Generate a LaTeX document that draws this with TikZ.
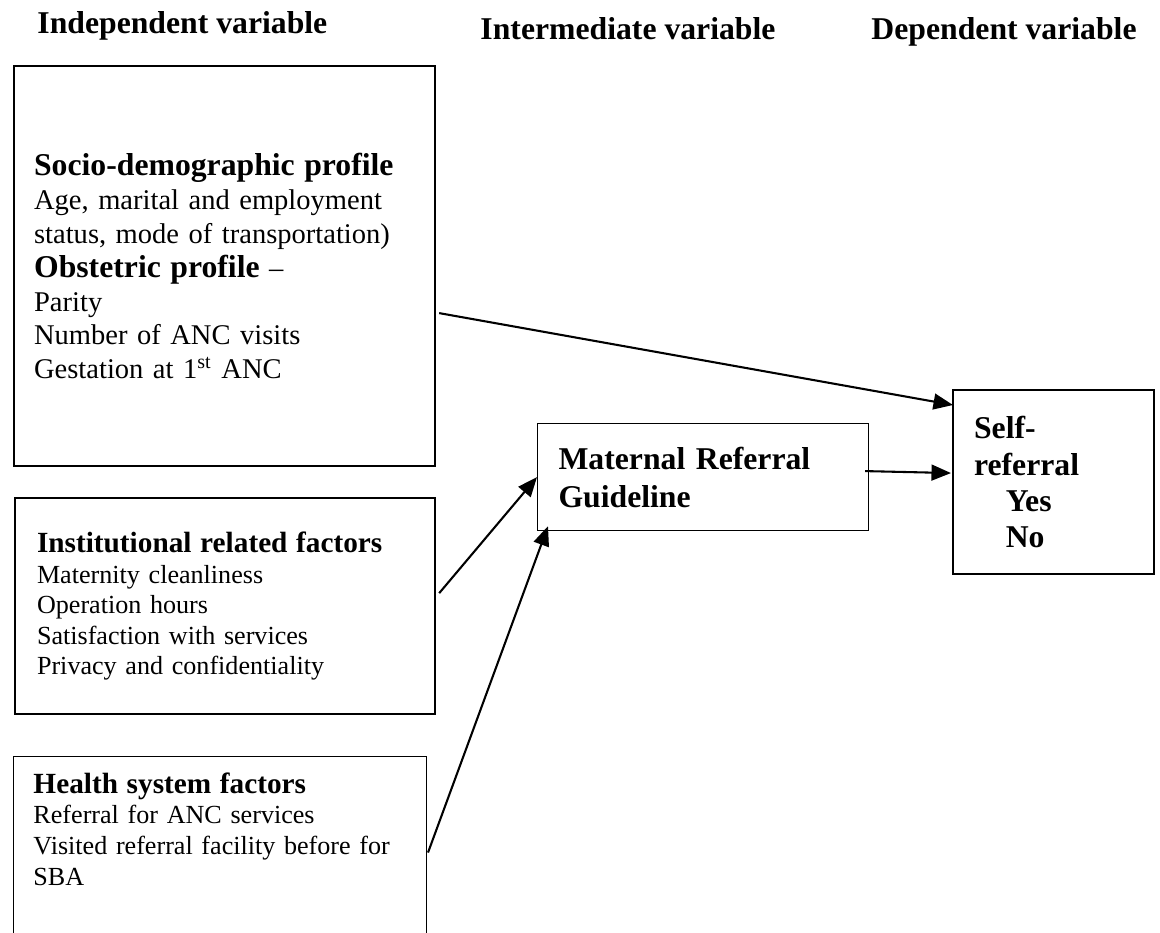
\documentclass[tikz,border=0pt]{standalone}
\usepackage{fontspec}
\setmainfont{Liberation Serif}
\usetikzlibrary{arrows.meta,calc}

\begin{document}
\begin{tikzpicture}[
    x=0.41pt, y=-0.41pt,
    box/.style={draw, rectangle, line width=0.9pt, anchor=north west, align=left, inner ysep=0pt},
    thinbox/.style={box, line width=0.45pt},
    title/.style={font=\fontsize{13}{15}\selectfont\bfseries, anchor=base west, inner sep=0pt},
    link/.style={-{Triangle[length=8pt, width=6.5pt]}, line width=0.85pt},
]
\clip (0,0) rectangle (1160,932);

% Column titles
\node[title] (indep) at (37,33) {Independent variable};
\node[title] (inter) at (480,39) {Intermediate variable};
\node[title] (dep) at (871,39) {Dependent variable};

% Independent variables
\node[box, minimum width=172.6pt, minimum height=164pt, inner xsep=8.2pt, text width=156.2pt,
      font=\fontsize{11.7}{13.9}\selectfont] (socio) at (13,65) {
  {\fontsize{13}{13.9}\selectfont\bfseries Socio-demographic profile}\\
  Age, marital and employment\\
  status, mode of transportation)\\
  {\fontsize{13}{13.9}\selectfont\bfseries Obstetric profile} --\\
  Parity\\
  Number of ANC visits\\
  Gestation at 1\textsuperscript{st} ANC
};

\node[box, minimum width=172.2pt, minimum height=88.6pt, inner xsep=9pt, text width=154.2pt,
      font=\fontsize{10.7}{12.5}\selectfont] (inst) at (14,497) {
  {\fontsize{12}{12.5}\selectfont\bfseries Institutional related factors}\\
  Maternity cleanliness\\
  Operation hours\\
  Satisfaction with services\\
  Privacy and confidentiality
};

% Health system box runs off the bottom edge
\node[thinbox, minimum width=169.3pt, minimum height=82pt] (health) at (13,756) {};
\node[anchor=north west, inner sep=0pt, align=left, text width=153pt,
      font=\fontsize{10.7}{12.6}\selectfont] (healthtext) at ($(health.north west)+(20,16)$) {
  {\fontsize{12}{12.6}\selectfont\bfseries Health system factors}\\
  Referral for ANC services\\
  Visited referral facility before for\\
  SBA
};

% Intermediate variable
\node[thinbox, minimum width=135.7pt, minimum height=43.9pt, inner xsep=8.6pt, text width=118.5pt,
      font=\fontsize{13}{15.6}\selectfont\bfseries] (guide) at (537,423) {Maternal Referral\\ Guideline};

% Dependent variable
\node[box, minimum width=82.4pt, minimum height=75.4pt, inner xsep=8.6pt, text width=65.2pt,
      font=\fontsize{13}{14.8}\selectfont\bfseries] (self) at (952,389) {
  Self-\\
  referral\\
  \hspace*{13pt}Yes\\
  \hspace*{13pt}No
};

% Arrows
\draw[link] ($(socio.east)+(3,47)$) -- ($(self.north west)+(1,16)$);
\draw[link] ($(guide.east)+(-4,-6)$) -- ($(self.west)+(-1,-9)$);
\draw[link] ($(inst.east)+(3,-13)$) -- (guide.west);
\draw[link] ($(health.east)+(1,-4)$) -- ($(guide.south west)+(11,-5)$);

\end{tikzpicture}
\end{document}
